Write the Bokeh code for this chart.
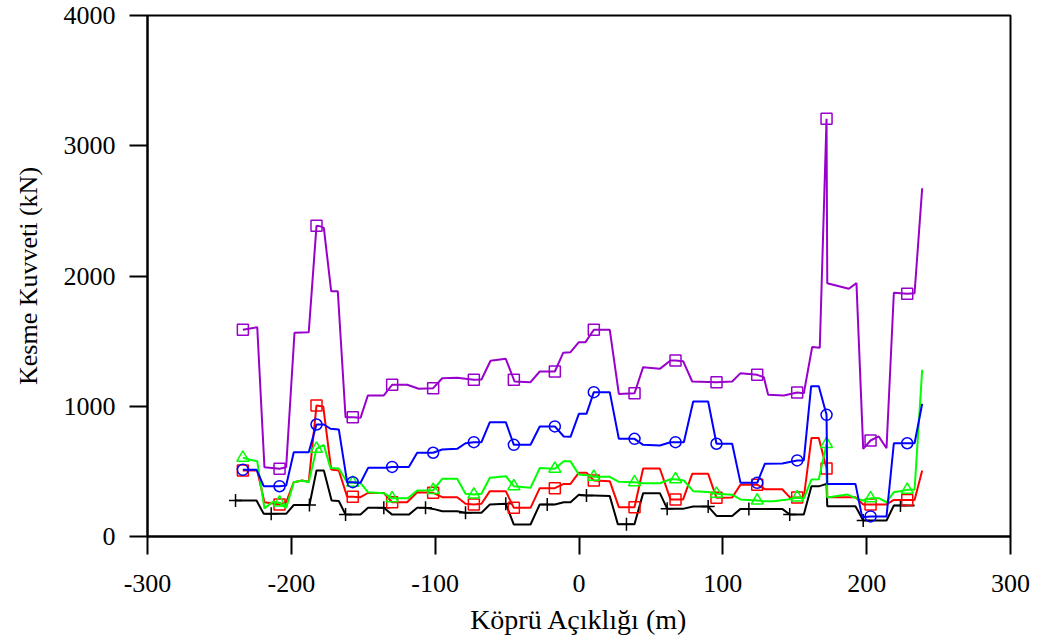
import numpy as np
from bokeh.plotting import figure
from bokeh.models import Range1d, FixedTicker
from bokeh.embed import file_html
from bokeh.resources import INLINE

# ---- data (kN vs m) ----
x_ticks = [-300, -200, -100, 0, 100, 200, 300]
y_ticks = [0, 1000, 2000, 3000, 4000]

purple_x = [-233.7, -223.7, -218.7, -208.2, -203.6, -197.8, -187.9, -182.5, -179.7, -177.4,
            -172.3, -167.7, -162.3, -157.3, -151.9, -146.8, -135.7, -129.9, -119.5, -111.4,
            -101.4, -95.1, -84.7, -73.1, -67.8, -61.5, -50.9, -44.8, -33.7, -27.3,
            -16.8, -11.0, -5.9, -0.1, 4.5, 10.3, 21.4, 27.7, 38.6, 44.6,
            56.2, 63.6, 67.1, 72.4, 78.7, 95.6, 106.5, 112.3, 123.9, 128.5,
            131.5, 142.4, 151.7, 156.3, 162.1, 167.4, 172.1, 172.6, 187.6, 192.9,
            197.6, 202.7, 208.4, 213.8, 218.9, 228.2, 233.3, 238.6]
purple_y = [1587, 1607, 532, 520, 532, 1564, 1569, 2385, 2381, 2370,
            1883, 1883, 916, 916, 911, 1083, 1083, 1165, 1165, 1134,
            1139, 1215, 1218, 1203, 1205, 1349, 1364, 1190, 1185, 1267,
            1267, 1410, 1415, 1492, 1492, 1587, 1587, 1095, 1100, 1300,
            1287, 1351, 1351, 1346, 1190, 1185, 1190, 1254, 1241, 1223,
            1088, 1083, 1106, 1100, 1454, 1449, 3207, 1945, 1902, 1945,
            673, 737, 768, 678, 1871, 1863, 1868, 2674]

blue_x = [-233.7, -224.2, -219.2, -208.2, -203.6, -198.3, -187.9, -182.5, -177.4, -172.8,
          -167.0, -161.2, -157.3, -151.9, -146.6, -134.5, -129.9, -118.3, -112.5, -101.4,
          -95.1, -84.7, -78.9, -73.1, -67.8, -62.0, -50.9, -45.3, -33.7, -27.3,
          -16.8, -10.6, -5.9, -0.1, 5.2, 10.3, 21.4, 27.7, 38.6, 44.6,
          56.2, 63.6, 67.1, 72.9, 79.4, 89.8, 95.6, 106.5, 112.3, 123.9,
          129.2, 141.3, 151.7, 156.3, 161.4, 166.7, 172.1, 172.6, 192.2, 196.9,
          202.7, 213.8, 218.9, 228.2, 233.3, 238.6]
blue_y = [512, 512, 386, 386, 392, 647, 647, 860, 860, 827,
          822, 417, 417, 413, 527, 527, 534, 534, 643, 643,
          668, 673, 716, 724, 724, 878, 878, 704, 704, 845,
          845, 768, 765, 942, 942, 1108, 1108, 750, 750, 704,
          699, 724, 724, 724, 1036, 1036, 712, 712, 412, 412,
          558, 560, 584, 584, 1154, 1154, 934, 404, 404, 148,
          154, 154, 716, 716, 716, 1019]

red_x = [-233.7, -223.7, -218.7, -208.2, -203.6, -198.3, -192.5, -187.9, -182.5, -177.8,
         -172.3, -167.0, -161.2, -157.3, -151.9, -146.8, -135.7, -129.9, -119.5, -112.5,
         -101.4, -95.1, -84.7, -78.9, -73.1, -67.8, -62.0, -50.9, -45.3, -33.7,
         -27.3, -16.8, -10.6, -5.9, -0.1, 5.2, 10.3, 21.4, 27.7, 38.6,
         44.6, 56.2, 63.6, 67.1, 72.4, 78.7, 89.8, 95.6, 106.5, 112.3,
         123.9, 129.2, 141.3, 146.6, 151.7, 156.3, 161.6, 166.7, 172.1, 172.6,
         192.2, 197.6, 202.7, 213.8, 218.9, 228.2, 233.3, 238.6]
red_y = [507, 507, 263, 246, 263, 417, 430, 420, 1006, 998,
         515, 507, 305, 305, 302, 334, 334, 263, 263, 340,
         335, 302, 302, 251, 246, 251, 348, 348, 220, 220,
         371, 371, 404, 404, 490, 490, 430, 425, 225, 225,
         522, 522, 285, 285, 285, 481, 481, 297, 300, 398,
         398, 363, 363, 300, 300, 300, 756, 756, 522, 302,
         302, 246, 246, 246, 281, 281, 281, 507]

green_x = [-233.7, -228.4, -223.7, -218.7, -213.3, -208.2, -203.6, -198.3, -192.5, -187.9,
           -182.5, -177.4, -172.8, -167.0, -161.2, -157.3, -151.9, -146.7, -135.5, -129.9,
           -119.0, -112.5, -101.4, -95.1, -84.7, -78.9, -73.1, -67.8, -62.0, -50.9,
           -45.3, -33.7, -27.3, -16.8, -10.6, -5.9, -0.1, 5.2, 10.3, 21.4,
           27.7, 38.6, 44.6, 56.2, 63.6, 67.1, 72.9, 79.4, 89.8, 95.6,
           106.5, 112.3, 123.9, 129.2, 135.4, 144.8, 151.7, 156.3, 161.6, 166.7,
           172.1, 172.6, 186.7, 192.9, 197.6, 202.7, 208.4, 213.8, 218.9, 228.2,
           233.3, 238.6]
green_y = [605, 589, 577, 216, 263, 260, 220, 417, 430, 417,
           673, 703, 525, 522, 417, 413, 409, 340, 333, 293,
           293, 353, 356, 443, 443, 328, 322, 328, 451, 463,
           386, 374, 525, 520, 578, 577, 476, 470, 458, 458,
           420, 417, 409, 409, 440, 440, 430, 348, 342, 328,
           321, 284, 276, 270, 271, 284, 300, 292, 437, 439,
           709, 300, 322, 293, 276, 294, 294, 263, 340, 358,
           358, 1280]

black_x = [-238.8, -224.2, -219.2, -214.0, -203.6, -198.3, -187.4, -182.5, -177.4, -172.0,
           -167.0, -162.3, -151.9, -146.7, -135.7, -129.9, -118.3, -112.5, -106.7, -101.4,
           -95.1, -84.7, -78.9, -67.8, -62.0, -50.9, -45.3, -33.7, -27.3, -22.1,
           -16.8, -10.6, -5.9, -0.1, 5.2, 10.3, 21.4, 27.0, 33.0, 38.6,
           44.6, 56.2, 61.3, 72.9, 79.4, 89.8, 95.6, 106.5, 112.3, 118.1,
           129.2, 141.3, 146.5, 156.3, 161.6, 166.7, 172.1, 172.6, 192.2, 197.6,
           213.8, 218.9, 223.5, 233.3]
black_y = [276, 276, 174, 174, 174, 242, 242, 507, 507, 276,
           272, 169, 169, 220, 220, 168, 168, 220, 220, 212,
           194, 194, 182, 182, 246, 252, 92, 92, 246, 246,
           246, 263, 263, 320, 315, 315, 310, 95, 95, 95,
           333, 333, 214, 214, 230, 230, 158, 158, 212, 212,
           212, 212, 169, 169, 385, 385, 404, 233, 233, 123,
           123, 238, 238, 238]

mark_x = [-233.7, -208.2, -182.5, -157.3, -129.9, -101.4, -73.1, -45.3, -16.8,
          10.3, 38.6, 67.1, 95.6, 123.9, 151.7, 172.1, 202.7, 228.2]
black_mark_x = [-238.8, -214.0, -187.4, -162.3, -135.7, -106.7, -78.9, -50.9, -22.1,
                5.2, 33.0, 61.3, 89.8, 118.1, 146.5, 197.6, 223.5]


def marker_y(xs, ys, mx):
    xs = np.asarray(xs, dtype=float)
    ys = np.asarray(ys, dtype=float)
    out = []
    for m in mx:
        idx = np.where(np.isclose(xs, m, atol=0.05))[0]
        if len(idx):
            out.append(float(ys[idx[0]]))
        else:
            out.append(float(np.interp(m, xs, ys)))
    return out


p = figure(width=1042, height=638, output_backend="svg", toolbar_location=None,
           x_range=Range1d(-300, 300), y_range=Range1d(0, 4000),
           min_border_left=147, min_border_right=32, min_border_top=15,
           min_border_bottom=102, background_fill_color="white",
           border_fill_color="white")

p.grid.visible = False
p.outline_line_color = "black"
p.outline_line_width = 2

FONT = "Liberation Serif"
for ax in (p.xaxis[0], p.yaxis[0]):
    ax.axis_line_width = 2
    ax.axis_line_color = "black"
    ax.major_tick_line_width = 2
    ax.major_tick_out = 18
    ax.major_tick_in = 0
    ax.minor_tick_out = 0
    ax.minor_tick_in = 0
    ax.major_label_text_font = FONT
    ax.major_label_text_font_size = "26px"
    ax.major_label_text_color = "black"
    ax.axis_label_text_font = FONT
    ax.axis_label_text_font_style = "normal"
    ax.axis_label_text_color = "black"

p.xaxis.axis_label_text_font_size = "28px"
p.yaxis.axis_label_text_font_size = "26px"
p.xaxis.ticker = FixedTicker(ticks=x_ticks)
p.yaxis.ticker = FixedTicker(ticks=y_ticks)
p.xaxis.major_label_overrides = {t: str(t) for t in x_ticks}
p.yaxis.major_label_overrides = {t: str(t) for t in y_ticks}
p.xaxis.axis_label = "Köprü Açıklığı (m)"
p.yaxis.axis_label = "Kesme Kuvveti (kN)"
p.xaxis.major_label_standoff = 20
p.yaxis.major_label_standoff = 14
p.xaxis.axis_label_standoff = 9
p.yaxis.axis_label_standoff = 18

LW = 2
# black
p.line(black_x, black_y, line_color="black", line_width=LW)
p.scatter(black_mark_x, marker_y(black_x, black_y, black_mark_x), marker="cross",
          size=13, line_color="black", line_width=1.5)
# red
p.line(red_x, red_y, line_color="#ff0000", line_width=LW)
p.scatter(mark_x, marker_y(red_x, red_y, mark_x), marker="square", size=11,
          line_color="#ff0000", fill_color=None, line_width=1.5)
# green
p.line(green_x, green_y, line_color="#00ff00", line_width=LW)
p.scatter(mark_x, marker_y(green_x, green_y, mark_x), marker="triangle", size=12,
          line_color="#00ff00", fill_color=None, line_width=1.5)
# blue
p.line(blue_x, blue_y, line_color="#0000ff", line_width=LW)
p.scatter(mark_x, marker_y(blue_x, blue_y, mark_x), marker="circle", size=11,
          line_color="#0000ff", fill_color=None, line_width=1.5)
# purple
p.line(purple_x, purple_y, line_color="#9900cc", line_width=LW)
p.scatter(mark_x, marker_y(purple_x, purple_y, mark_x), marker="square", size=11,
          line_color="#9900cc", fill_color=None, line_width=1.5)

open("out.html", "w").write(file_html(p, INLINE))
